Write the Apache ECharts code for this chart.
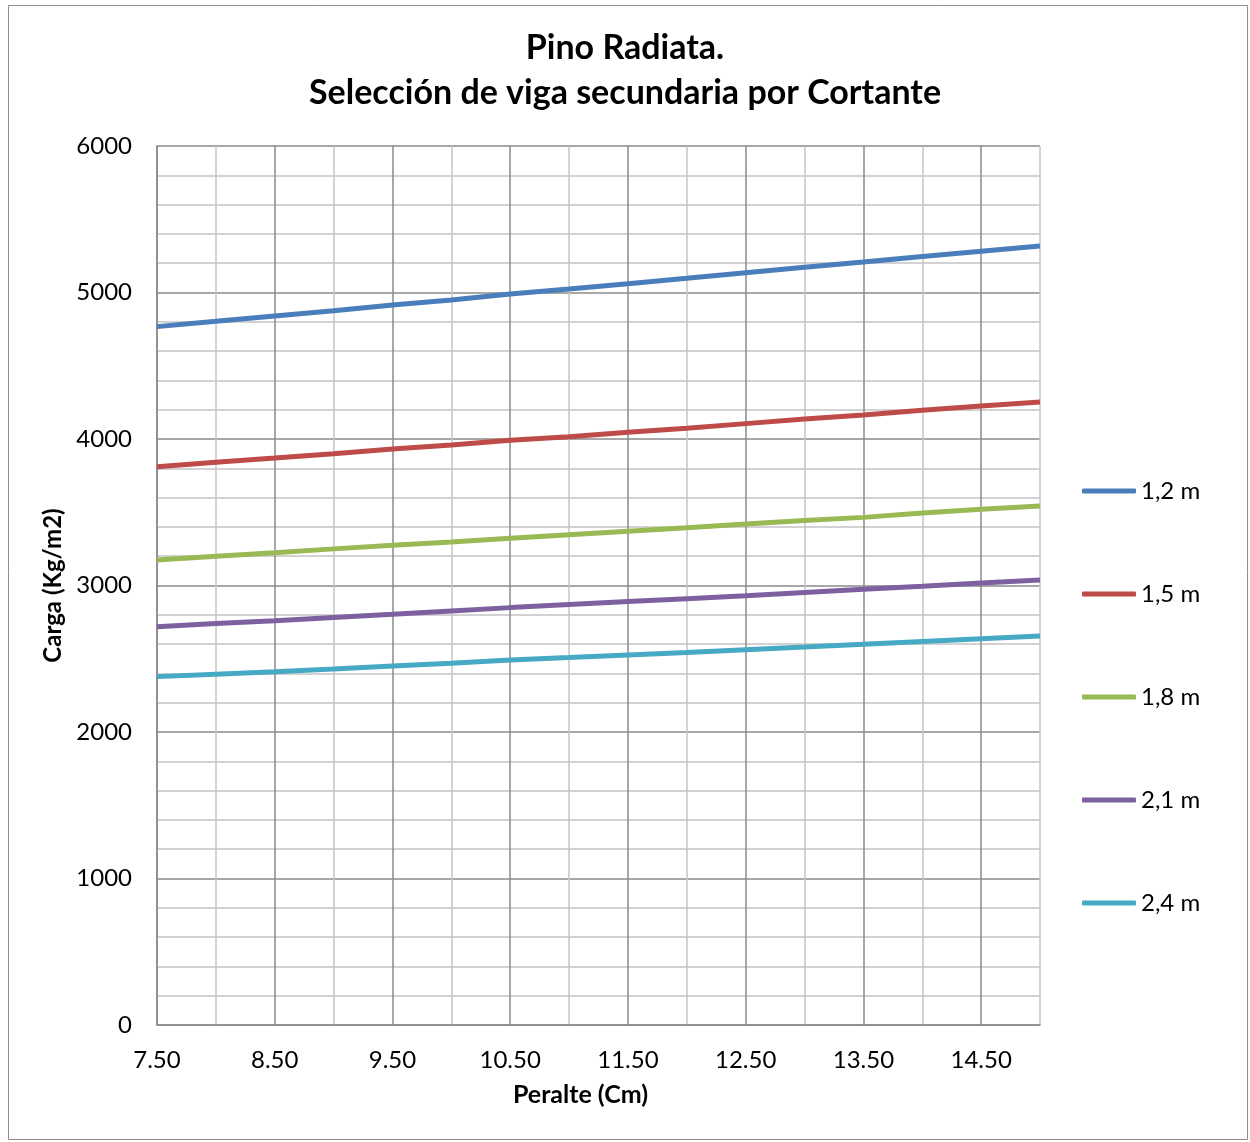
<!DOCTYPE html>
<html>
<head>
<meta charset="utf-8">
<script src="https://cdn.jsdelivr.net/npm/echarts@6/dist/echarts.min.js"></script>
<style>
  html, body { margin: 0; padding: 0; background: #fff; }
  #chart { width: 1250px; height: 1142px; }
</style>
</head>
<body>
<div id="chart"></div>
<script>
// Peralte (cm)
const peralte = [7.5, 8, 8.5, 9, 9.5, 10, 10.5, 11, 11.5, 12, 12.5, 13, 13.5, 14, 14.5, 15]

// Carga (Kg/m2) for each span
const span12 = [4767, 4803, 4840, 4876, 4915, 4949, 4990, 5024, 5060, 5097, 5135, 5172, 5208, 5245, 5281, 5317]
const span15 = [3811, 3841, 3870, 3900, 3932, 3959, 3991, 4016, 4046, 4073, 4105, 4137, 4164, 4196, 4225, 4253]
const span18 = [3174, 3200, 3224, 3250, 3274, 3297, 3322, 3346, 3370, 3394, 3420, 3443, 3465, 3495, 3520, 3543]
const span21 = [2719, 2740, 2760, 2782, 2803, 2826, 2849, 2870, 2890, 2910, 2930, 2952, 2974, 2995, 3017, 3038]
const span24 = [2378, 2395, 2412, 2430, 2450, 2469, 2491, 2508, 2526, 2543, 2562, 2580, 2599, 2618, 2637, 2655]

const seriesNames = ['1,2 m', '1,5 m', '1,8 m', '2,1 m', '2,4 m']
const seriesData = [span12, span15, span18, span21, span24]
const colors = ['#4a7ebb', '#be4b48', '#98b954', '#7d60a0', '#46aac5']

const font = 'Lato, "Open Sans", sans-serif'
const majorGrid = '#8a8a8a'
const minorGrid = '#c4c4c4'

const chart = echarts.init(document.getElementById('chart'))

chart.setOption({
  animation: false,
  textStyle: { fontFamily: font, color: '#000' },
  color: colors,
  title: {
    text: 'Pino Radiata.\nSelección de viga secundaria por Cortante',
    left: 'center',
    top: 21,
    textStyle: { fontFamily: font, fontSize: 34, fontWeight: 'bold', lineHeight: 45, color: '#000' }
  },
  graphic: [{
    type: 'rect',
    shape: { x: 8.5, y: 5.5, width: 1239, height: 1134 },
    style: { fill: 'none', stroke: '#8c8c8c', lineWidth: 1 },
    silent: true
  }],
  legend: {
    orient: 'vertical',
    left: 1082,
    top: 479,
    padding: 0,
    icon: 'roundRect',
    itemWidth: 54,
    itemHeight: 5,
    itemGap: 79,
    textStyle: { fontFamily: font, fontSize: 24, color: '#000' },
    data: seriesNames
  },
  grid: { left: 157, right: 210, top: 146, bottom: 117 },
  xAxis: {
    type: 'value',
    min: 7.5,
    max: 15,
    interval: 0.5,
    name: 'Peralte (Cm)',
    nameLocation: 'middle',
    nameGap: 57,
    nameTextStyle: { fontFamily: font, fontSize: 25, fontWeight: 'bold', color: '#000', padding: [0, 36, 0, 0] },
    axisLine: { lineStyle: { color: majorGrid, width: 1.5 } },
    axisTick: { show: false },
    axisLabel: {
      margin: 23,
      fontSize: 24,
      color: '#000',
      formatter: v => (Math.abs((v - 7.5) % 1) < 1e-6 ? v.toFixed(2) : '')
    },
    splitLine: { show: true, lineStyle: { color: [majorGrid, minorGrid], width: 1.5 } }
  },
  yAxis: {
    type: 'value',
    min: 0,
    max: 6000,
    interval: 1000,
    name: 'Carga (Kg/m2)',
    nameLocation: 'middle',
    nameGap: 77,
    nameTextStyle: { fontFamily: font, fontSize: 24, fontWeight: 'bold', color: '#000' },
    axisLine: { show: true, lineStyle: { color: majorGrid, width: 1.5 } },
    axisTick: { show: false },
    axisLabel: { margin: 25, fontSize: 24, color: '#000', formatter: v => String(v) },
    splitLine: { show: true, lineStyle: { color: majorGrid, width: 1.5 } },
    minorTick: { show: false, splitNumber: 5 },
    minorSplitLine: { show: true, lineStyle: { color: minorGrid, width: 1.5 } }
  },
  series: seriesNames.map((name, i) => ({
    name,
    type: 'line',
    data: peralte.map((x, j) => [x, seriesData[i][j]]),
    showSymbol: false,
    symbol: 'none',
    lineStyle: { width: 5, color: colors[i] },
    itemStyle: { color: colors[i] },
    z: 3
  }))
})
</script>
</body>
</html>
